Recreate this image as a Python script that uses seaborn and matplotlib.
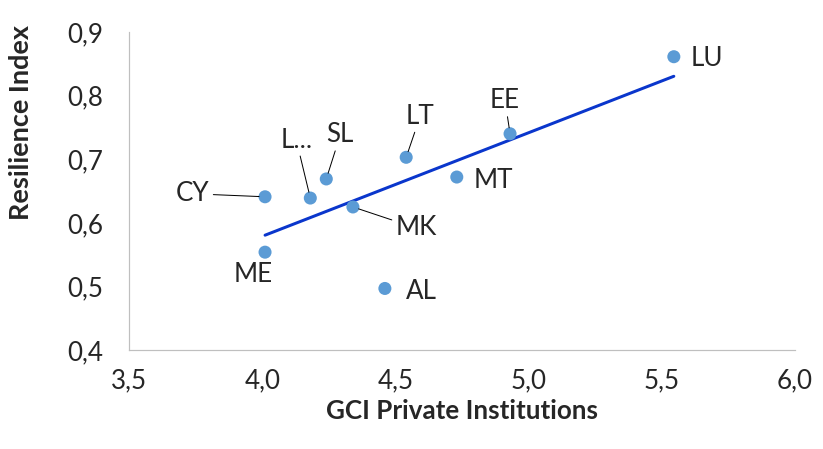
import numpy as np
import pandas as pd
import seaborn as sns
import matplotlib.pyplot as plt
from matplotlib.ticker import FuncFormatter

# Data
countries = ["CY", "ME", "L...", "SL", "MK", "LT", "AL", "MT", "EE", "LU"]
gci_private = [4.01, 4.01, 4.18, 4.24, 4.34, 4.54, 4.46, 4.73, 4.93, 5.545]
resilience = [0.641, 0.554, 0.639, 0.669, 0.625, 0.703, 0.497, 0.672, 0.740, 0.861]

df = pd.DataFrame({"country": countries, "x": gci_private, "y": resilience})

sns.set_style("white")
plt.rcParams["font.family"] = ["Lato", "DejaVu Sans"]

fig = plt.figure(figsize=(823 / 72, 449 / 72), dpi=72)
ax = fig.add_axes([0.157, 0.220, 0.809, 0.709])

sns.regplot(data=df, x="x", y="y", ax=ax, ci=None,
            scatter_kws=dict(s=170, color="#5B9BD5", edgecolor="none", alpha=1, zorder=3),
            line_kws=dict(color="#0A36CC", lw=3, zorder=2))

# label offsets (points) and whether a leader line is drawn
label_pos = {
    "CY": ((-72, 3), True), "ME": ((-12, -22), False), "L...": ((-14, 58), True),
    "SL": ((14, 44), True), "MK": ((63, -21), True), "LT": ((14, 41), True),
    "AL": ((37, -3), False), "MT": ((37, -3), False), "EE": ((-5, 33), True),
    "LU": ((33, -2), False),
}
for _, r in df.iterrows():
    off, line = label_pos[r["country"]]
    ap = dict(arrowstyle="-", color="black", lw=1, shrinkA=1, shrinkB=6) if line else None
    ax.annotate(r["country"], (r["x"], r["y"]), xytext=off, textcoords="offset points",
                ha="center", va="center", fontsize=26, arrowprops=ap)

ax.set_xlim(3.5, 6.0)
ax.set_ylim(0.4, 0.9)
ax.set_xticks(np.arange(3.5, 6.01, 0.5))
ax.set_yticks(np.arange(0.4, 0.91, 0.1))
comma = FuncFormatter(lambda v, p: f"{v:.1f}".replace(".", ","))
ax.xaxis.set_major_formatter(comma)
ax.yaxis.set_major_formatter(comma)
ax.tick_params(labelsize=26, length=0)
ax.tick_params(axis="x", pad=18)
ax.tick_params(axis="y", pad=26)

ax.set_xlabel("GCI Private Institutions", fontsize=26, fontweight="bold", labelpad=6)
ax.set_ylabel("Resilience Index", fontsize=27, fontweight="bold", va="center")
ax.yaxis.set_label_coords(-0.162, 0.714)

for s in ["top", "right"]:
    ax.spines[s].set_visible(False)
for s in ["left", "bottom"]:
    ax.spines[s].set_color("#BFBFBF")
    ax.spines[s].set_linewidth(1.2)

fig.savefig("out.png", dpi=72)
